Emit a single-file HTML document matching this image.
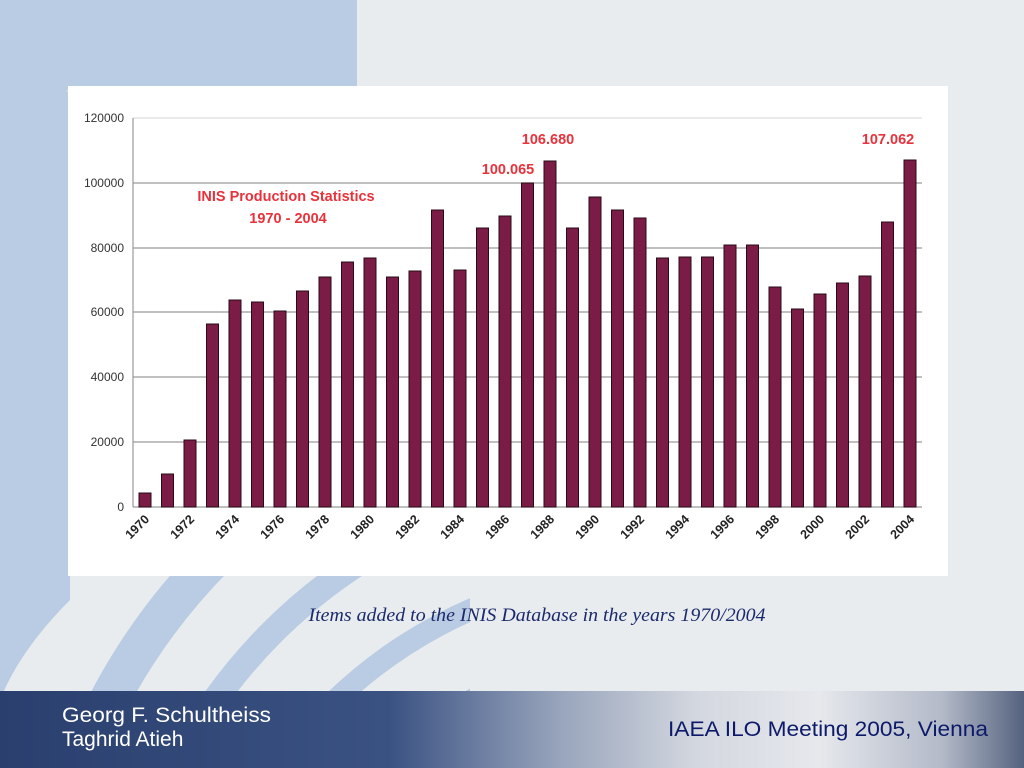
<!DOCTYPE html>
<html><head><meta charset="utf-8"><style>
html,body{margin:0;padding:0;width:1024px;height:768px;overflow:hidden;background:#e9ecef;}
svg{display:block}
</style></head><body>
<svg width="1024" height="768" viewBox="0 0 1024 768" xmlns="http://www.w3.org/2000/svg" font-family="Liberation Sans, sans-serif" style="position:absolute;left:0;top:0">
<defs>
<linearGradient id="ft" x1="0" y1="0" x2="1" y2="0">
<stop offset="0" stop-color="#2a3f6e"/>
<stop offset="0.38" stop-color="#3a5282"/>
<stop offset="0.55" stop-color="#9aa6bd"/>
<stop offset="0.68" stop-color="#d3d7df"/>
<stop offset="0.8" stop-color="#e6e8ec"/>
<stop offset="0.92" stop-color="#b3bac8"/>
<stop offset="1" stop-color="#55627f"/>
</linearGradient>
<clipPath id="lc"><rect x="0" y="0" width="470" height="691"/></clipPath>
</defs>
<rect width="1024" height="768" fill="#e9ecef"/>
<path d="M0 0 H357 V86 H70 L0 200 Z" fill="#b9cce3"/>
<g fill="none" stroke="#b9cce3" clip-path="url(#lc)">
<circle cx="640" cy="980" r="600" stroke-width="40"/>
<circle cx="640" cy="1000" r="520" stroke-width="26"/>
<circle cx="660" cy="1040" r="470" stroke-width="22"/>
<circle cx="690" cy="1080" r="440" stroke-width="18"/>
<circle cx="720" cy="1120" r="420" stroke-width="14"/>
</g>
<path d="M0 200 Q10 120 70 90 V600 Q20 650 0 700 Z" fill="#b9cce3"/>
<rect x="68" y="86" width="880" height="490" fill="#fff"/>
<g stroke="#9a9a9a" stroke-width="1.2">
<line x1="133" y1="118" x2="922" y2="118" stroke="#ddd"/>
<line x1="133" y1="183" x2="922" y2="183"/>
<line x1="133" y1="248" x2="922" y2="248"/>
<line x1="133" y1="312" x2="922" y2="312"/>
<line x1="133" y1="377" x2="922" y2="377"/>
<line x1="133" y1="442" x2="922" y2="442"/>
<line x1="133" y1="118" x2="133" y2="507"/>
<line x1="133" y1="507" x2="922" y2="507"/>
</g>
<g font-size="12" fill="#333" text-anchor="end">
<text x="124" y="122">120000</text>
<text x="124" y="187">100000</text>
<text x="124" y="252">80000</text>
<text x="124" y="316">60000</text>
<text x="124" y="381">40000</text>
<text x="124" y="446">20000</text>
<text x="124" y="511">0</text>
</g>
<g fill="#7a1c45" stroke="#2a0a18" stroke-width="1">
<rect x="139" y="493" width="12" height="14"/>
<rect x="161.5" y="474" width="12" height="33"/>
<rect x="184" y="440" width="12" height="67"/>
<rect x="206.5" y="324" width="12" height="183"/>
<rect x="229" y="300" width="12" height="207"/>
<rect x="251.5" y="302" width="12" height="205"/>
<rect x="274" y="311" width="12" height="196"/>
<rect x="296.5" y="291" width="12" height="216"/>
<rect x="319" y="277" width="12" height="230"/>
<rect x="341.5" y="262" width="12" height="245"/>
<rect x="364" y="258" width="12" height="249"/>
<rect x="386.5" y="277" width="12" height="230"/>
<rect x="409" y="271" width="12" height="236"/>
<rect x="431.5" y="210" width="12" height="297"/>
<rect x="454" y="270" width="12" height="237"/>
<rect x="476.5" y="228" width="12" height="279"/>
<rect x="499" y="216" width="12" height="291"/>
<rect x="521.5" y="183" width="12" height="324"/>
<rect x="544" y="161" width="12" height="346"/>
<rect x="566.5" y="228" width="12" height="279"/>
<rect x="589" y="197" width="12" height="310"/>
<rect x="611.5" y="210" width="12" height="297"/>
<rect x="634" y="218" width="12" height="289"/>
<rect x="656.5" y="258" width="12" height="249"/>
<rect x="679" y="257" width="12" height="250"/>
<rect x="701.5" y="257" width="12" height="250"/>
<rect x="724" y="245" width="12" height="262"/>
<rect x="746.5" y="245" width="12" height="262"/>
<rect x="769" y="287" width="12" height="220"/>
<rect x="791.5" y="309" width="12" height="198"/>
<rect x="814" y="294" width="12" height="213"/>
<rect x="836.5" y="283" width="12" height="224"/>
<rect x="859" y="276" width="12" height="231"/>
<rect x="881.5" y="222" width="12" height="285"/>
<rect x="904" y="160" width="12" height="347"/>
</g>
<g font-size="12.5" fill="#222" text-anchor="end" font-weight="bold">
<text transform="translate(150,520) rotate(-45)">1970</text>
<text transform="translate(195,520) rotate(-45)">1972</text>
<text transform="translate(240,520) rotate(-45)">1974</text>
<text transform="translate(285,520) rotate(-45)">1976</text>
<text transform="translate(330,520) rotate(-45)">1978</text>
<text transform="translate(375,520) rotate(-45)">1980</text>
<text transform="translate(420,520) rotate(-45)">1982</text>
<text transform="translate(465,520) rotate(-45)">1984</text>
<text transform="translate(510,520) rotate(-45)">1986</text>
<text transform="translate(555,520) rotate(-45)">1988</text>
<text transform="translate(600,520) rotate(-45)">1990</text>
<text transform="translate(645,520) rotate(-45)">1992</text>
<text transform="translate(690,520) rotate(-45)">1994</text>
<text transform="translate(735,520) rotate(-45)">1996</text>
<text transform="translate(780,520) rotate(-45)">1998</text>
<text transform="translate(825,520) rotate(-45)">2000</text>
<text transform="translate(870,520) rotate(-45)">2002</text>
<text transform="translate(915,520) rotate(-45)">2004</text>
</g>
<g fill="#e8323c" font-weight="bold" font-size="14.5" text-anchor="middle">
<text x="286" y="201">INIS Production Statistics</text>
<text x="288" y="223">1970 - 2004</text>
<text x="508" y="174">100.065</text>
<text x="548" y="144">106.680</text>
<text x="888" y="144">107.062</text>
</g>
<text x="537" y="621" font-family="Liberation Serif, serif" font-style="italic" font-size="19" fill="#1a2a6a" text-anchor="middle" textLength="457" lengthAdjust="spacingAndGlyphs">Items added to the INIS Database in the years 1970/2004</text>
<rect x="0" y="691" width="1024" height="77" fill="url(#ft)"/>
<text x="62" y="722" font-size="21" fill="#fff" textLength="209" lengthAdjust="spacingAndGlyphs">Georg F. Schultheiss</text>
<text x="62" y="746" font-size="21" fill="#fff">Taghrid Atieh</text>
<text x="668" y="736" font-size="21" fill="#0d1a6a" textLength="320" lengthAdjust="spacingAndGlyphs">IAEA ILO Meeting 2005, Vienna</text>
</svg>
</body></html>
